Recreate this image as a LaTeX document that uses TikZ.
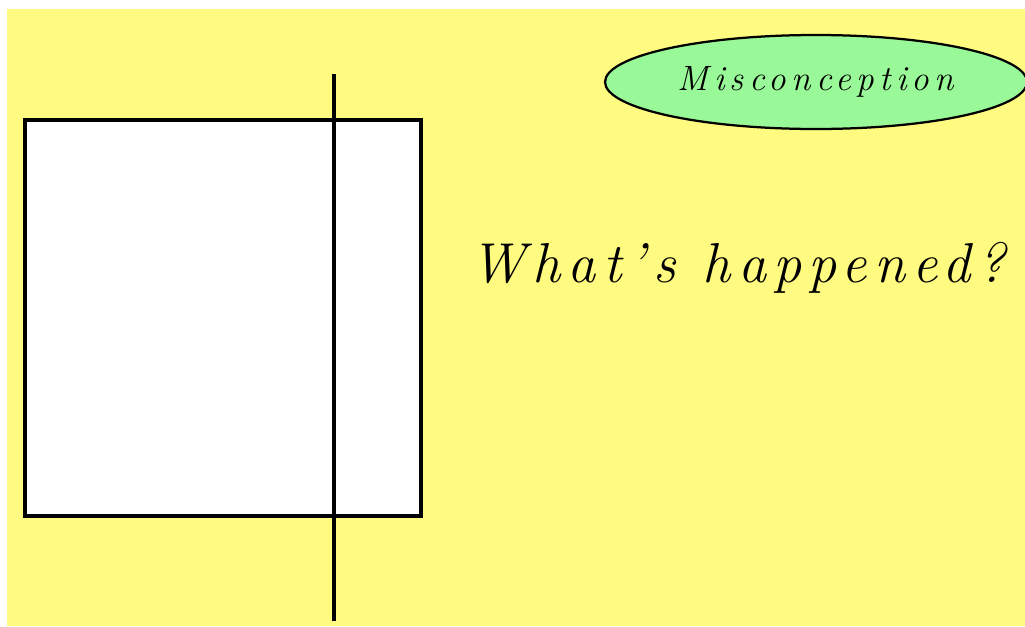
\documentclass[tikz,border=0pt]{standalone}
\usepackage{fontspec}
\setmainfont{Latin Modern Roman}
\definecolor{slideyellow}{RGB}{255,251,128}
\definecolor{tagreen}{RGB}{153,249,153}
\usetikzlibrary{shapes.geometric}

\begin{document}
\begin{tikzpicture}
[
	x=0.025cm,y=-0.025cm,
	edge/.style={draw,line width=2.2pt},
	tag/.style={ellipse,draw,line width=1.6pt,fill=tagreen,inner sep=0pt,minimum width=422*0.025cm,minimum height=94*0.025cm},
	tagtext/.style={font=\fontsize{25}{30}\selectfont\itshape\addfontfeature{LetterSpace=15}},
	bigtext/.style={font=\fontsize{40}{46}\selectfont\itshape\addfontfeature{LetterSpace=13}},
]

	% page
	\useasboundingbox (0,0) rectangle (1025,626);
	\fill[slideyellow] (7,9) rectangle (1025,626);

	% square and line
	\node[edge,fill=white,minimum width=396*0.025cm,minimum height=396*0.025cm,inner sep=0pt] (sq) at (223,318) {};
	\coordinate (linetop) at (334,74);
	\coordinate (linebot) at (334,621);
	\draw[edge] (linetop) -- (linebot);

	% labels
	\node[tag] (misc) at (816,82) {};
	\node[tagtext] (misctext) at (misc) {Misconception};
	\node[bigtext,anchor=base] (question) at (738,282) {What's happened?};

\end{tikzpicture}
\end{document}
